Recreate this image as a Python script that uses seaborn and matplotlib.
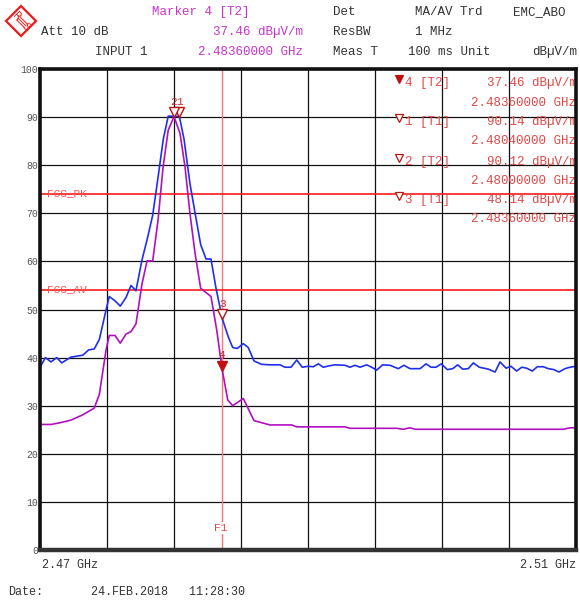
import numpy as np
import pandas as pd
import matplotlib
matplotlib.use("Agg")
import matplotlib.pyplot as plt
import seaborn as sns
from matplotlib.patches import Polygon
from matplotlib.lines import Line2D
from matplotlib.transforms import offset_copy

# ---- trace data (frequency in GHz, level in dBµV/m) ----
trace1_freq = [2.47000, 2.47007, 2.47040, 2.47082, 2.47125, 2.47162, 2.47231, 2.47319, 2.47363,
               2.47405, 2.47443, 2.47493, 2.47517, 2.47560, 2.47599, 2.47642, 2.47679, 2.47716,
               2.47761, 2.47799, 2.47841, 2.47881, 2.47920, 2.47957, 2.48000, 2.48040, 2.48075,
               2.48119, 2.48162, 2.48199, 2.48239, 2.48276, 2.48313, 2.48360, 2.48405, 2.48438,
               2.48472, 2.48517, 2.48554, 2.48597, 2.48654, 2.48716, 2.48791, 2.48828, 2.48873,
               2.48916, 2.48957, 2.49002, 2.49040, 2.49077, 2.49114, 2.49160, 2.49201, 2.49276,
               2.49313, 2.49351, 2.49388, 2.49438, 2.49475, 2.49513, 2.49557, 2.49612, 2.49674,
               2.49716, 2.49761, 2.49836, 2.49881, 2.49918, 2.49955, 2.49995, 2.50040, 2.50080,
               2.50117, 2.50154, 2.50196, 2.50234, 2.50278, 2.50346, 2.50396, 2.50433, 2.50478,
               2.50515, 2.50557, 2.50595, 2.50632, 2.50674, 2.50711, 2.50756, 2.50793, 2.50836,
               2.50873, 2.50918, 2.50955, 2.51000]
trace1_level = [38.0, 38.3, 40.0, 39.1, 40.0, 38.9, 40.1, 40.5, 41.6,
                41.8, 43.8, 49.9, 52.7, 51.8, 50.7, 52.5, 55.0, 53.9,
                60.3, 64.5, 69.6, 77.5, 85.4, 90.2, 90.2, 90.14, 85.4,
                76.2, 69.3, 63.5, 60.5, 60.5, 54.5, 48.14, 44.3, 42.1,
                41.9, 42.9, 42.1, 39.3, 38.6, 38.5, 38.5, 38.0, 38.0,
                39.5, 38.0, 38.2, 38.1, 38.7, 38.0, 38.3, 38.5, 38.4,
                38.0, 38.4, 38.0, 38.5, 38.0, 37.4, 38.5, 38.4, 37.7,
                38.4, 37.7, 37.7, 38.7, 38.0, 38.0, 38.7, 37.5, 37.7,
                38.5, 37.6, 37.7, 38.9, 38.0, 37.6, 37.0, 39.1, 37.8,
                38.2, 37.2, 38.0, 37.8, 37.2, 38.1, 38.1, 37.7, 37.5,
                37.0, 37.7, 38.0, 38.2]

trace2_freq = [2.47000, 2.47082, 2.47157, 2.47231, 2.47319, 2.47405, 2.47443, 2.47493, 2.47517,
               2.47560, 2.47599, 2.47642, 2.47679, 2.47716, 2.47761, 2.47799, 2.47841, 2.47881,
               2.47918, 2.47957, 2.48000, 2.48045, 2.48082, 2.48119, 2.48157, 2.48199, 2.48231,
               2.48276, 2.48319, 2.48360, 2.48401, 2.48438, 2.48517, 2.48597, 2.48716, 2.48878,
               2.48916, 2.49276, 2.49313, 2.49662, 2.49711, 2.49761, 2.49799, 2.50905, 2.50955,
               2.51000]
trace2_level = [26.1, 26.1, 26.5, 27.0, 28.1, 29.5, 32.4, 41.6, 44.6,
                44.6, 43.0, 44.9, 45.4, 47.0, 55.3, 60.1, 60.1, 68.6,
                79.5, 87.3, 90.12, 86.6, 79.7, 70.0, 61.7, 54.4, 53.7,
                52.7, 45.7, 37.46, 31.2, 30.0, 31.5, 26.9, 26.0, 26.0,
                25.6, 25.6, 25.3, 25.3, 25.1, 25.4, 25.1, 25.1, 25.4,
                25.4]

# ---- markers ----
marker_ids = ["4", "1", "2", "3"]
marker_traces = ["T2", "T1", "T2", "T1"]
marker_freq = [2.48360, 2.48040, 2.48000, 2.48360]
marker_level = [37.46, 90.14, 90.12, 48.14]
marker_filled = [True, False, False, False]

# ---- limit lines and display line ----
limit_names = ["FCC_PK", "FCC_AV"]
limit_levels = [74.0, 54.0]
f1_freq = 2.48360

y_ticks = list(range(0, 101, 10))
f_start, f_stop = 2.47, 2.51

sns.set_style("white")
plt.rcParams["font.family"] = ["Liberation Mono", "DejaVu Sans"]

W, H = 580, 600
fig = plt.figure(figsize=(W / 100, H / 100), dpi=100)
ax = fig.add_axes([40 / W, 50 / H, 536 / W, 481 / H])


def fpos(x, y):
    return x / W, 1 - y / H


def apos(x, y):
    return (x - 40) / 536, (550 - y) / 481


BLUE = "#1f2ff0"
PURPLE = "#b010c0"
RED = "#ff1a1a"
MRED = "#c01010"
TXT = "#333333"
MAG = "#cc33cc"
TRED = "#e04848"
LOGO = "#ee1c1c"

# grid
for v in y_ticks:
    ax.axhline(v, color="#111111", lw=0.9, zorder=1)
for f in np.linspace(f_start, f_stop, 9):
    ax.axvline(f, color="#111111", lw=0.9, zorder=1)

# limit lines
for name, lvl in zip(limit_names, limit_levels):
    ax.axhline(lvl, color=RED, lw=1.2, zorder=3)
    ax.text(*apos(47, 550 - lvl * 4.81 - 1), name, transform=ax.transAxes,
            color="#ff5050", fontsize=8, ha="left", va="center", zorder=4)

# F1 line
ax.axvline(f1_freq, color="#f07a7a", lw=1.0, zorder=2)
ax.text(*apos(221, 528), "F1", transform=ax.transAxes, color=TRED,
        fontsize=8, ha="center", va="center", zorder=4,
        bbox=dict(facecolor="white", edgecolor="none", pad=0.5))

# traces
df1 = pd.DataFrame({"freq": trace1_freq, "level": trace1_level})
df2 = pd.DataFrame({"freq": trace2_freq, "level": trace2_level})
sns.lineplot(data=df1, x="freq", y="level", ax=ax, color=BLUE, lw=1.2,
             estimator=None, sort=False, zorder=5)
sns.lineplot(data=df2, x="freq", y="level", ax=ax, color=PURPLE, lw=1.2,
             estimator=None, sort=False, zorder=5)

# markers drawn with the tip on the trace point
tip = offset_copy(ax.transData, fig=fig, y=3.0, units="points")
lab = offset_copy(ax.transData, fig=fig, y=10.5, units="points")
for mid, f, lvl, filled in zip(marker_ids, marker_freq, marker_level, marker_filled):
    ax.plot([f], [lvl], marker="v", ms=6.5, mec=MRED, mew=1.0,
            mfc=MRED if filled else "white", transform=tip, zorder=7, clip_on=False)
    ax.text(f, lvl, mid, transform=lab, color="#c03030", fontsize=8,
            ha="center", va="center", zorder=7)

# marker table inside the diagram
rows_y = [83, 122, 161.5, 200]
for i, (mid, tr, f, lvl, filled) in enumerate(zip(marker_ids, marker_traces, marker_freq,
                                                   marker_level, marker_filled)):
    y0 = rows_y[i]
    ax.plot(*apos(398.5, y0 - 4), marker="v", ms=5.5, mec=MRED, mew=0.9,
            mfc=MRED if filled else "white", transform=ax.transAxes, zorder=8)
    ax.text(*apos(405, y0), f"{mid} [{tr}]", transform=ax.transAxes, color=TRED,
            fontsize=9, ha="left", va="center", zorder=8)
    ax.text(*apos(486.7, y0), f"{lvl:.2f} dBµV/m", transform=ax.transAxes, color=TRED,
            fontsize=9, ha="left", va="center", zorder=8, clip_on=True)
    ax.text(*apos(470.7, y0 + 19.5), f"{f:.8f} GHz", transform=ax.transAxes, color=TRED,
            fontsize=9, ha="left", va="center", zorder=8, clip_on=True)

ax.set_xlim(f_start, f_stop)
ax.set_ylim(0, 100)
ax.set_yticks(y_ticks)
ax.set_yticklabels([str(v) for v in y_ticks], fontsize=7, color="#555555")
ax.set_xticks([])
ax.tick_params(axis="y", length=0, pad=1.5)
ax.set_xlabel("")
ax.set_ylabel("")
for side, sp in ax.spines.items():
    sp.set_visible(True)
    sp.set_color("#111111")
    sp.set_linewidth(2.6)
    sp.set_zorder(10)
ax.spines["bottom"].set_color("#333333")
ax.spines["bottom"].set_linewidth(3.2)

# axis range labels
fig.text(*fpos(42, 565), "2.47 GHz", color=TXT, fontsize=8.5, ha="left", va="center")
fig.text(*fpos(576, 565), "2.51 GHz", color=TXT, fontsize=8.5, ha="right", va="center")

# header
hdr = [
    (152, 12, "Marker 4 [T2]", MAG),
    (333, 12, "Det", TXT),
    (415, 12, "MA/AV Trd", TXT),
    (513, 12, "EMC_ABO", TXT),
    (41, 32, "Att 10 dB", TXT),
    (213, 32, "37.46 dBµV/m", MAG),
    (333, 32, "ResBW", TXT),
    (415, 32, "1 MHz", TXT),
    (95, 52, "INPUT 1", TXT),
    (198, 52, "2.48360000 GHz", MAG),
    (333, 52, "Meas T", TXT),
    (408, 52, "100 ms Unit", TXT),
    (532, 52, "dBµV/m", TXT),
]
for x, y, s, c in hdr:
    fig.text(*fpos(x, y), s, color=c, fontsize=9, ha="left", va="center")

fig.text(*fpos(8, 592), "Date:", color=TXT, fontsize=8.5, ha="left", va="center")
fig.text(*fpos(91, 592), "24.FEB.2018   11:28:30", color=TXT, fontsize=8.5,
         ha="left", va="center")

# R&S logo
cx, cy, r = 21, 21, 15
logo = Polygon([fpos(cx, cy - r), fpos(cx + r, cy), fpos(cx, cy + r), fpos(cx - r, cy)],
               closed=True, transform=fig.transFigure, facecolor="white",
               edgecolor=LOGO, lw=1.6, zorder=20)
fig.add_artist(logo)
for d in (-1.6, 0, 1.6):
    fig.add_artist(Line2D([(cx - 3 + d) / W, (cx + 5 + d) / W],
                          [1 - (cy - 3 - d) / H, 1 - (cy + 5 - d) / H],
                          transform=fig.transFigure, color=LOGO, lw=0.7, zorder=21))
fig.text(*fpos(17.0, 16.0), "R", color=LOGO, fontsize=7.5, ha="center",
         va="center", family="DejaVu Sans", rotation=-45, zorder=22)
fig.text(*fpos(25.5, 27.5), "S", color=LOGO, fontsize=7.5, ha="center",
         va="center", family="DejaVu Sans", rotation=-45, zorder=22)

fig.savefig("out.png", dpi=100, facecolor="white")
